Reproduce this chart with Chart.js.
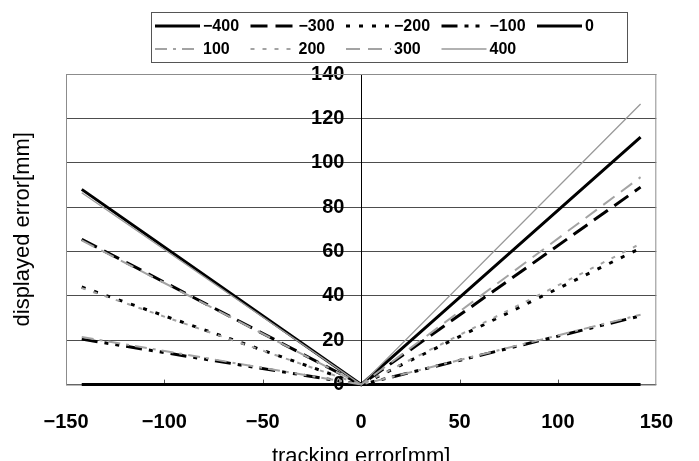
<!DOCTYPE html>
<html>
<head>
<meta charset="utf-8">
<script src="https://cdn.jsdelivr.net/npm/chart.js@4.4.1/dist/chart.umd.min.js"></script>
<style>
  html, body { margin: 0; padding: 0; background: #fff; overflow: hidden; }
</style>
</head>
<body>
<canvas id="chart" width="699" height="470"></canvas>
<script>
// values: each line runs from the left end, through the origin, to the right end
const trackingError = [-142, 0, 142];
const seriesLabels = ['−400', '−300', '−200', '−100', '0', '100', '200', '300', '400'];
const errMinus400 = [88, 0, 111.5];
const errMinus300 = [65.5, 0, 89];
const errMinus200 = [44, 0, 61.5];
const errMinus100 = [20.5, 0, 31];
const errZero = [0, 0, 0];
const errPlus100 = [21.5, 0, 31.5];
const errPlus200 = [43.5, 0, 63.5];
const errPlus300 = [65, 0, 93.5];
const errPlus400 = [86.5, 0, 126.5];
const xTickValues = [-150, -100, -50, 0, 50, 100, 150];
const xTickLabels = ['−150', '−100', '−50', '0', '50', '100', '150'];

const FONT = '"Liberation Sans", Arial, sans-serif';
const GRAY = '#a3a3a3';

// line look for each series, same order as seriesLabels
const lineStyles = [
    { color: '#000', width: 3, dash: [] },
    { color: '#000', width: 3, dash: [17, 8] },
    { color: '#000', width: 3, dash: [4, 9] },
    { color: '#000', width: 3, dash: [16, 7, 4, 7, 4, 7] },
    { color: '#000', width: 3, dash: [] },
    { color: GRAY, width: 2, dash: [12, 6, 3, 6] },
    { color: GRAY, width: 2, dash: [4, 8] },
    { color: GRAY, width: 2, dash: [14, 8] },
    { color: '#999', width: 1.3, dash: [] }
];

const allValues = [errMinus400, errMinus300, errMinus200, errMinus100, errZero,
    errPlus100, errPlus200, errPlus300, errPlus400];

const datasets = allValues.map((vals, i) => ({
    label: seriesLabels[i],
    data: vals.map((v, j) => ({ x: trackingError[j], y: v })),
    borderColor: lineStyles[i].color,
    borderWidth: lineStyles[i].width,
    borderDash: lineStyles[i].dash,
    pointRadius: 0,
    tension: 0,
    fill: false,
    clip: 6,
    order: allValues.length - i // later series drawn on top, like the original
}));

// boxed legend, 5 + 4 items
const legendBox = {
    id: 'legendBox',
    afterDraw(chart) {
        const ctx = chart.ctx;
        ctx.save();
        ctx.strokeStyle = '#555';
        ctx.lineWidth = 1;
        ctx.strokeRect(151.5, 12.5, 476, 50);
        ctx.font = 'bold 16px ' + FONT;
        ctx.textBaseline = 'middle';
        chart.data.datasets.forEach((ds, i) => {
            const col = i < 5 ? i : i - 5;
            const y = i < 5 ? 26 : 49;
            const x = 155 + col * 95.5;
            ctx.strokeStyle = ds.borderColor;
            ctx.lineWidth = ds.borderWidth;
            ctx.setLineDash(ds.borderDash);
            ctx.beginPath();
            ctx.moveTo(x, y);
            ctx.lineTo(x + 45, y);
            ctx.stroke();
            ctx.setLineDash([]);
            ctx.fillStyle = '#000';
            ctx.fillText(ds.label, x + 48, y + 1);
        });
        ctx.restore();
    }
};

// gray plot frame + small inward ticks on the bottom edge
const plotFrame = {
    id: 'plotFrame',
    beforeDatasetsDraw(chart) {
        const { ctx, chartArea: a, scales } = chart;
        ctx.save();
        ctx.strokeStyle = '#8c8c8c';
        ctx.lineWidth = 1;
        ctx.strokeRect(a.left + 0.5, a.top + 0.5, a.width - 1, a.height);
        ctx.strokeStyle = '#555';
        xTickValues.forEach(v => {
            if (Math.abs(v) === 150 || v === 0) return;
            const px = Math.round(scales.x.getPixelForValue(v)) + 0.5;
            ctx.beginPath();
            ctx.moveTo(px, a.bottom);
            ctx.lineTo(px, a.bottom - 5);
            ctx.stroke();
        });
        ctx.restore();
    }
};

new Chart(document.getElementById('chart'), {
    type: 'line',
    data: { datasets },
    options: {
        responsive: false,
        animation: false,
        layout: { padding: { top: 74, right: 18, left: 0, bottom: 0 } },
        plugins: {
            legend: { display: false },
            tooltip: { enabled: false }
        },
        scales: {
            x: {
                type: 'linear',
                min: -150,
                max: 150,
                afterBuildTicks: axis => { axis.ticks = xTickValues.map(v => ({ value: v })); },
                ticks: {
                    padding: 26,
                    color: '#000',
                    font: { family: FONT, size: 20, weight: 'bold' },
                    callback: v => xTickLabels[xTickValues.indexOf(v)]
                },
                grid: { display: false, drawTicks: false },
                border: { display: false },
                title: {
                    display: true,
                    text: 'tracking error[mm]',
                    color: '#000',
                    font: { family: FONT, size: 22 },
                    padding: { top: -17, bottom: 0 }
                }
            },
            y: {
                position: { x: 0 },
                min: 0,
                max: 140,
                ticks: {
                    stepSize: 20,
                    color: '#000',
                    font: { family: FONT, size: 20, weight: 'bold' },
                    // labels sit right-aligned on the centre axis; trailing spaces keep a gap
                    callback: v => v + '   '
                },
                grid: { color: '#4d4d4d', drawTicks: false },
                border: { color: '#000', width: 1 }
            },
            yTitle: {
                type: 'linear',
                position: 'left',
                ticks: { display: false },
                grid: { display: false, drawTicks: false },
                border: { display: false },
                title: {
                    display: true,
                    text: 'displayed error[mm]',
                    color: '#000',
                    font: { family: FONT, size: 22 },
                    padding: { top: 9.8, bottom: 29.8 }
                }
            }
        }
    },
    plugins: [plotFrame, legendBox]
});
</script>
</body>
</html>
